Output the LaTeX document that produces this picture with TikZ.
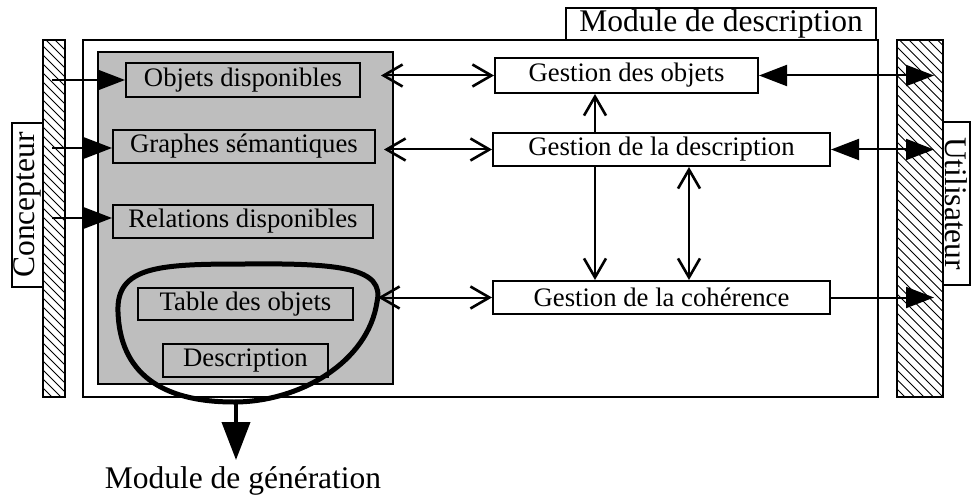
\documentclass[tikz,border=0pt]{standalone}
\usepackage{fontspec}
\setmainfont{Liberation Serif}
\usetikzlibrary{arrows.meta}
\begin{document}
\begin{tikzpicture}[x=1pt,y=-1pt,
  line width=2pt,
  txt/.style={font=\fontsize{26.7}{28}\selectfont},
  big/.style={font=\fontsize{31.5}{33}\selectfont},
  box/.style={draw, rectangle, inner sep=0pt, txt},
  frame/.style={draw, rectangle, inner sep=0pt},
  tri/.tip={Triangle[length=28pt,width=21pt]},
  barb/.tip={Straight Barb[length=19pt,width=22pt,line width=2.6pt]},
]
\useasboundingbox (0,0) rectangle (971,497);

% outer frame
\node[frame, minimum width=795pt, minimum height=357pt] (outer) at (480.5,218.5) {};
\node[draw, fill=white, inner sep=0pt, minimum width=310pt, minimum height=32pt, big] (moddesc) at (721,24) {Module de description};

% hatched bars
\node[frame, minimum width=22pt, minimum height=357pt] (cbar) at (54,218.5) {};
\begin{scope}
  \clip (43,40) rectangle (65,397);
  \foreach \i in {0,...,44} \draw[line width=0.9pt] (43,{10+\i*9}) -- ++(30,30);
\end{scope}
\node[frame, minimum width=22pt, minimum height=357pt] at (54,218.5) {};
\node[frame, fill=white, minimum width=164pt, minimum height=31pt, big, rotate=90] (conc) at (27.5,205) {Concepteur};

\node[frame, minimum width=46pt, minimum height=357pt] (rbar) at (920,218.5) {};
\begin{scope}
  \clip (897,40) rectangle (943,397);
  \foreach \i in {0,...,44} \draw[line width=0.9pt] (897,{-10+\i*9.5}) -- ++(50,50);
\end{scope}
\node[frame, minimum width=46pt, minimum height=357pt] at (920,218.5) {};
\node[frame, fill=white, minimum width=163pt, minimum height=27pt, big, rotate=-90] (util) at (956.5,203.5) {Utilisateur};

% gray panel
\node[frame, fill={rgb,255:red,190;green,190;blue,190}, minimum width=295pt, minimum height=332pt] (gray) at (245.5,218) {};
\node[box, minimum width=234pt, minimum height=34pt] (objdisp) at (243,80) {Objets disponibles};
\node[box, minimum width=262pt, minimum height=33pt] (graphes) at (244,146.5) {Graphes sémantiques};
\node[box, minimum width=260pt, minimum height=33pt] (relations) at (243,221.5) {Relations disponibles};
\node[box, minimum width=215pt, minimum height=32pt] (table) at (245.5,304) {Table des objets};
\node[box, minimum width=165pt, minimum height=33pt] (descr) at (245.5,360.5) {Description};

% blob
\draw[line width=5pt] (245,264) .. controls (340,263) and (385,268) .. (377,302)
  .. controls (368,362) and (300,402) .. (234,402)
  .. controls (160,402) and (120,372) .. (118,312)
  .. controls (116,266) and (160,264) .. (245,264) -- cycle;
\coordinate (blobE) at (378,297.5);
\coordinate (blobS) at (236,402);

% right-hand boxes
\node[box, minimum width=263pt, minimum height=35pt] (gobj) at (626.5,75.5) {Gestion des objets};
\node[box, minimum width=337pt, minimum height=33pt] (gdesc) at (661.5,149.5) {Gestion de la description};
\node[box, minimum width=337pt, minimum height=33pt] (gcoh) at (661.5,297.5) {Gestion de la cohérence};

% Concepteur arrows
\coordinate (c1) at (52,80);
\coordinate (c2) at (52,148);
\coordinate (c3) at (52,218);
\draw[-tri] (c1) -- (objdisp.west);
\draw[-tri] (c2) -- (c2 -| graphes.west);
\draw[-tri] (c3) -- (c3 -| relations.west);

% middle double arrows
\coordinate (m1) at (381,75.5);
\coordinate (m2) at (384,149.5);
\draw[barb-barb] (m1) -- (gobj.west);
\draw[barb-barb] (m2) -- (gdesc.west);
\draw[barb-barb] (blobE) -- (gcoh.west);

% vertical arrows
\coordinate (v1) at (595,0);
\coordinate (v2) at (689,0);
\draw[-barb] (v1 |- gdesc.north) -- (v1 |- gobj.south);
\draw[-barb] (v1 |- gdesc.south) -- (v1 |- gcoh.north);
\draw[barb-barb] (v2 |- gdesc.south) -- (v2 |- gcoh.north);

% Utilisateur arrows
\coordinate (r1) at (934,75.5);
\coordinate (r2) at (934,149.5);
\coordinate (r3) at (934,297.5);
\draw[tri-tri] (gobj.east) -- (r1);
\draw[tri-tri] (gdesc.east) -- (r2);
\draw[-tri] (gcoh.east) -- (r3);

% generation
\node[big, inner sep=0pt, anchor=base] (gen) at (243,488) {Module de génération};
\coordinate (gtip) at (236,460);
\draw[line width=4pt, -{Triangle[length=38pt,width=28pt]}] (blobS) -- (gtip);
\end{tikzpicture}
\end{document}
